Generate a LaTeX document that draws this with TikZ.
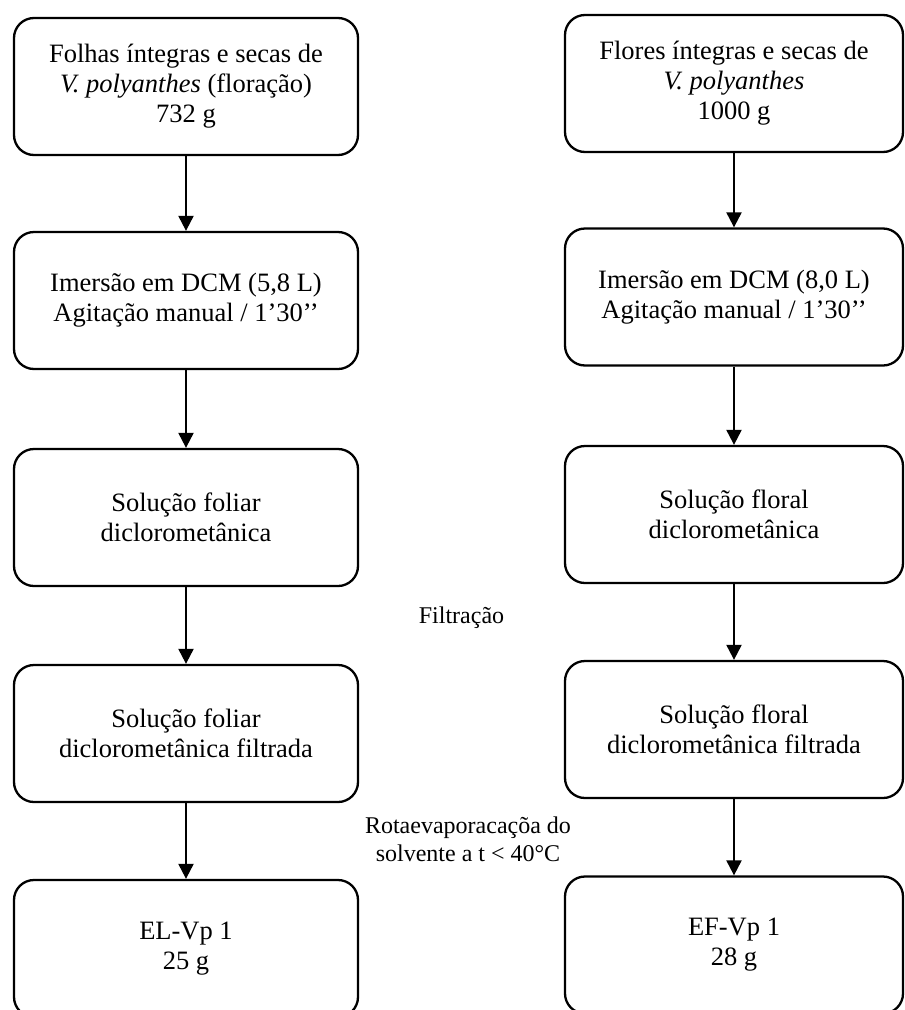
\documentclass[tikz,border=0pt]{standalone}
\usepackage{fontspec}
\setmainfont{Liberation Serif}
\usetikzlibrary{arrows.meta}
\tikzset{>={Triangle[width=15pt,length=15pt]},
  etapa/.style={draw,line width=2.3pt,rounded corners=20pt,align=center,
    minimum width=#1,minimum height=137pt,inner sep=0pt,
    font=\fontsize{26.5}{30}\selectfont},
  rotulo/.style={align=center,font=\fontsize{24}{28}\selectfont},
  seta/.style={->,line width=2.1pt}}

\begin{document}
\begin{tikzpicture}[x=1pt,y=-1pt]
\path[use as bounding box,clip] (0,0) rectangle (905,1010);
% folhas
\node[etapa=344pt] (folha1) at (186,86.5) {Folhas íntegras e secas de\\\textit{V. polyanthes} (floração)\\732 g};
\node[etapa=344pt] (folha2) at (186,300.5) {Imersão em DCM (5,8 L)\\Agitação manual / 1’30’{}’};
\node[etapa=344pt] (folha3) at (186,517.5) {Solução foliar\\diclorometânica};
\node[etapa=344pt] (folha4) at (186,733.5) {Solução foliar\\diclorometânica filtrada};
\node[etapa=344pt] (folha5) at (186,948.5) {EL-Vp 1\\25 g};
% flores
\node[etapa=338pt] (flor1) at (734,83.5) {Flores íntegras e secas de\\\textit{V. polyanthes}\\1000 g};
\node[etapa=338pt] (flor2) at (734,297) {Imersão em DCM (8,0 L)\\Agitação manual / 1’30’{}’};
\node[etapa=338pt] (flor3) at (734,514.5) {Solução floral\\diclorometânica};
\node[etapa=338pt] (flor4) at (734,729.5) {Solução floral\\diclorometânica filtrada};
\node[etapa=338pt] (flor5) at (734,945) {EF-Vp 1\\28 g};
% rotulos
\node[rotulo] (filtracao) at (461.5,618) {Filtração};
\node[rotulo] (rotaevap) at (468,839) {Rotaevaporacaçõa do\\solvente a t < 40°C};
\foreach \a/\b in {folha1/folha2,folha2/folha3,folha3/folha4,folha4/folha5,
  flor1/flor2,flor2/flor3,flor3/flor4,flor4/flor5}
  \draw[seta] (\a) -- (\b);
\end{tikzpicture}
\end{document}
